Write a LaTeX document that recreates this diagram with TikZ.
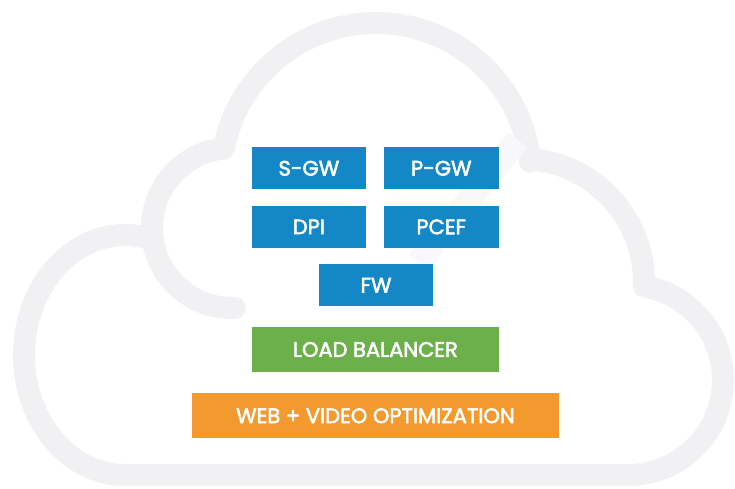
\documentclass[tikz,border=0pt]{standalone}
\usepackage{fontspec}
\setmainfont{Poppins}
\newfontfamily\blockfont{Poppins}[FakeBold=2.5]
\definecolor{cloudgray}{RGB}{241,241,244}
\definecolor{shadegray}{RGB}{248,248,250}
\definecolor{boxblue}{RGB}{20,136,198}
\definecolor{boxgreen}{RGB}{108,176,76}
\definecolor{boxorange}{RGB}{243,154,46}

\begin{document}
\begin{tikzpicture}[x=1pt,y=1pt,
  cloudline/.style={draw=cloudgray,line width=22pt,line cap=round},
  block/.style={inner sep=0pt,text=white,anchor=center,
    font=\blockfont\fontsize{21}{24}\selectfont},
  bluebox/.style={block,fill=boxblue,minimum width=114.5pt,minimum height=42pt},
  greenbox/.style={block,fill=boxgreen,minimum width=247.3pt,minimum height=44.4pt},
  orangebox/.style={block,fill=boxorange,minimum width=367.3pt,minimum height=45pt}]
\useasboundingbox (0,0) rectangle (735,489);
\fill[white] (0,0) rectangle (735,489);

% cloud outline
\draw[cloudline] (376,311) ++(169:155) arc[start angle=169,end angle=6,radius=155];
\draw[cloudline] (521,207) ++(86:123) arc[start angle=86,end angle=-2,radius=123];
\draw[cloudline] (628,109) ++(80:95) arc[start angle=80,end angle=-90,radius=95];
\draw[cloudline] (628,14) -- (125,14);
\draw[cloudline] (125,14) arc[start angle=270,end angle=74,x radius=101,y radius=120];
\draw[cloudline] (232,261) ++(96:80) arc[start angle=96,end angle=272,radius=80];

% faint diagonal shade
\draw[draw=shadegray,line width=24pt] (518,349) -- (418,227);

% function blocks
\node[bluebox] (sgw) at (308.9,320.7) {S-GW};
\node[bluebox] (pgw) at (441.3,320.7) {P-GW};
\node[bluebox] (dpi) at (308.9,262.1) {DPI};
\node[bluebox] (pcef) at (441.3,262.1) {PCEF};
\node[bluebox] (fw) at (376,203.8) {FW};
\node[greenbox] (lb) at (375.4,139.5) {LOAD BALANCER};
\node[orangebox] (wvo) at (375.4,73.2) {WEB + VIDEO OPTIMIZATION};
\end{tikzpicture}
\end{document}
